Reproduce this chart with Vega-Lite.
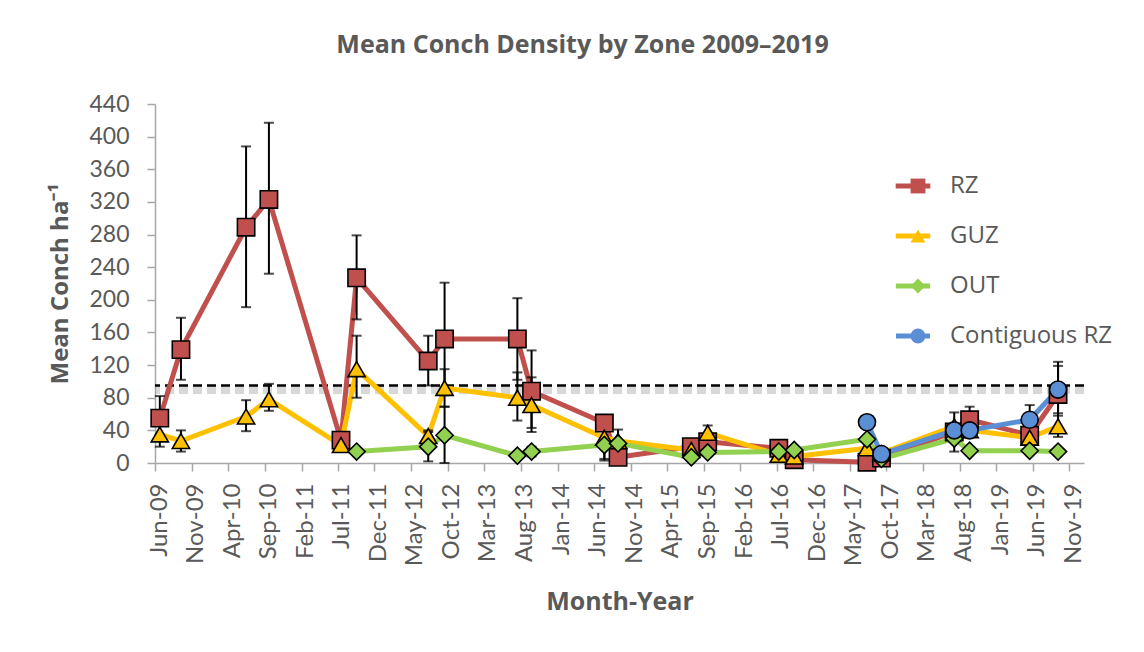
{
  "$schema": "https://vega.github.io/schema/vega-lite/v6.json",
  "width": 929,
  "height": 359,
  "autosize": {"type": "none"},
  "padding": {"left": 155, "top": 104, "right": 60, "bottom": 189},
  "background": "white",
  "title": {
    "text": "Mean Conch Density by Zone 2009–2019",
    "font": "Open Sans",
    "fontSize": 25,
    "fontWeight": "bold",
    "color": "#595959",
    "dx": -37,
    "offset": 35
  },
  "datasets": {
    "conch": [
      {"date": "2009/06/21", "zone": "RZ", "value": 55, "lo": 28, "hi": 82},
      {"date": "2009/09/17", "zone": "RZ", "value": 139, "lo": 102, "hi": 178},
      {"date": "2010/06/15", "zone": "RZ", "value": 289, "lo": 191, "hi": 388},
      {"date": "2010/09/18", "zone": "RZ", "value": 323, "lo": 232, "hi": 417},
      {"date": "2011/07/15", "zone": "RZ", "value": 28, "lo": 20, "hi": 36},
      {"date": "2011/09/18", "zone": "RZ", "value": 227, "lo": 176, "hi": 279},
      {"date": "2012/07/12", "zone": "RZ", "value": 125, "lo": 95, "hi": 156},
      {"date": "2012/09/18", "zone": "RZ", "value": 152, "lo": 83, "hi": 221},
      {"date": "2013/07/18", "zone": "RZ", "value": 152, "lo": 102, "hi": 202},
      {"date": "2013/09/15", "zone": "RZ", "value": 88, "lo": 38, "hi": 138},
      {"date": "2014/07/15", "zone": "RZ", "value": 49, "lo": null, "hi": null},
      {"date": "2014/09/10", "zone": "RZ", "value": 7, "lo": null, "hi": null},
      {"date": "2015/07/12", "zone": "RZ", "value": 20, "lo": null, "hi": null},
      {"date": "2015/09/18", "zone": "RZ", "value": 26, "lo": null, "hi": null},
      {"date": "2016/07/10", "zone": "RZ", "value": 18, "lo": null, "hi": null},
      {"date": "2016/09/12", "zone": "RZ", "value": 4, "lo": null, "hi": null},
      {"date": "2017/07/12", "zone": "RZ", "value": 1, "lo": null, "hi": null},
      {"date": "2017/09/10", "zone": "RZ", "value": 6, "lo": null, "hi": null},
      {"date": "2018/07/10", "zone": "RZ", "value": 38, "lo": null, "hi": null},
      {"date": "2018/09/12", "zone": "RZ", "value": 53, "lo": 38, "hi": 69},
      {"date": "2019/05/20", "zone": "RZ", "value": 34, "lo": 24, "hi": 44},
      {"date": "2019/09/15", "zone": "RZ", "value": 84, "lo": 44, "hi": 124},

      {"date": "2009/06/21", "zone": "GUZ", "value": 35, "lo": 20, "hi": 50},
      {"date": "2009/09/17", "zone": "GUZ", "value": 27, "lo": 14, "hi": 40},
      {"date": "2010/06/15", "zone": "GUZ", "value": 57, "lo": 39, "hi": 77},
      {"date": "2010/09/18", "zone": "GUZ", "value": 78, "lo": 64, "hi": 97},
      {"date": "2011/07/15", "zone": "GUZ", "value": 22, "lo": 14, "hi": 30},
      {"date": "2011/09/18", "zone": "GUZ", "value": 115, "lo": 80, "hi": 156},
      {"date": "2012/07/12", "zone": "GUZ", "value": 33, "lo": 26, "hi": 40},
      {"date": "2012/09/18", "zone": "GUZ", "value": 92, "lo": 69, "hi": 115},
      {"date": "2013/07/18", "zone": "GUZ", "value": 80, "lo": 52, "hi": 111},
      {"date": "2013/09/15", "zone": "GUZ", "value": 71, "lo": 43, "hi": 105},
      {"date": "2014/07/15", "zone": "GUZ", "value": 31, "lo": 5, "hi": 57},
      {"date": "2014/09/10", "zone": "GUZ", "value": 27, "lo": null, "hi": null},
      {"date": "2015/07/12", "zone": "GUZ", "value": 16, "lo": null, "hi": null},
      {"date": "2015/09/18", "zone": "GUZ", "value": 37, "lo": 28, "hi": 46},
      {"date": "2016/07/10", "zone": "GUZ", "value": 10, "lo": null, "hi": null},
      {"date": "2016/09/12", "zone": "GUZ", "value": 8, "lo": null, "hi": null},
      {"date": "2017/07/12", "zone": "GUZ", "value": 18, "lo": null, "hi": null},
      {"date": "2017/09/10", "zone": "GUZ", "value": 12, "lo": null, "hi": null},
      {"date": "2018/07/10", "zone": "GUZ", "value": 45, "lo": null, "hi": null},
      {"date": "2018/09/12", "zone": "GUZ", "value": 40, "lo": null, "hi": null},
      {"date": "2019/05/20", "zone": "GUZ", "value": 31, "lo": null, "hi": null},
      {"date": "2019/09/15", "zone": "GUZ", "value": 45, "lo": 32, "hi": 58},

      {"date": "2011/09/18", "zone": "OUT", "value": 14, "lo": null, "hi": null},
      {"date": "2012/07/12", "zone": "OUT", "value": 20, "lo": 2, "hi": 38},
      {"date": "2012/09/18", "zone": "OUT", "value": 34, "lo": 0, "hi": 69},
      {"date": "2013/07/18", "zone": "OUT", "value": 9, "lo": null, "hi": null},
      {"date": "2013/09/15", "zone": "OUT", "value": 14, "lo": 8, "hi": 20},
      {"date": "2014/07/15", "zone": "OUT", "value": 22, "lo": 3, "hi": 41},
      {"date": "2014/09/10", "zone": "OUT", "value": 24, "lo": 7, "hi": 41},
      {"date": "2015/07/12", "zone": "OUT", "value": 7, "lo": null, "hi": null},
      {"date": "2015/09/18", "zone": "OUT", "value": 13, "lo": null, "hi": null},
      {"date": "2016/07/10", "zone": "OUT", "value": 14, "lo": null, "hi": null},
      {"date": "2016/09/12", "zone": "OUT", "value": 16, "lo": null, "hi": null},
      {"date": "2017/07/12", "zone": "OUT", "value": 29, "lo": null, "hi": null},
      {"date": "2017/09/10", "zone": "OUT", "value": 5, "lo": null, "hi": null},
      {"date": "2018/07/10", "zone": "OUT", "value": 30, "lo": null, "hi": null},
      {"date": "2018/09/12", "zone": "OUT", "value": 15, "lo": null, "hi": null},
      {"date": "2019/05/20", "zone": "OUT", "value": 15, "lo": null, "hi": null},
      {"date": "2019/09/15", "zone": "OUT", "value": 14, "lo": null, "hi": null},

      {"date": "2017/07/12", "zone": "Contiguous RZ", "value": 50, "lo": null, "hi": null},
      {"date": "2017/09/10", "zone": "Contiguous RZ", "value": 11, "lo": null, "hi": null},
      {"date": "2018/07/10", "zone": "Contiguous RZ", "value": 40, "lo": 14, "hi": 62},
      {"date": "2018/09/12", "zone": "Contiguous RZ", "value": 40, "lo": null, "hi": null},
      {"date": "2019/05/20", "zone": "Contiguous RZ", "value": 53, "lo": 35, "hi": 71},
      {"date": "2019/09/15", "zone": "Contiguous RZ", "value": 90, "lo": 61, "hi": 119}
    ],
    "threshold": [{"level": 95}]
  },
  "layer": [
    {
      "data": {"name": "threshold"},
      "mark": {"type": "rule", "color": "#a8a8a8", "opacity": 0.45, "strokeWidth": 9, "strokeDash": [9, 5], "yOffset": 4},
      "encoding": {
        "y": {"field": "level", "type": "quantitative", "title": "Mean Conch ha⁻¹",
          "scale": {"domain": [0, 440], "nice": false},
          "axis": {"values": [0, 40, 80, 120, 160, 200, 240, 280, 320, 360, 400, 440]}}
      }
    },
    {
      "data": {"name": "threshold"},
      "mark": {"type": "rule", "color": "black", "strokeWidth": 2.5, "strokeDash": [9, 5]},
      "encoding": {
        "y": {"field": "level", "type": "quantitative", "title": "Mean Conch ha⁻¹",
          "scale": {"domain": [0, 440], "nice": false},
          "axis": {"values": [0, 40, 80, 120, 160, 200, 240, 280, 320, 360, 400, 440]}}
      }
    },
    {
      "data": {"name": "conch"},
      "encoding": {
        "x": {
          "field": "date",
          "type": "temporal",
          "title": "Month-Year",
          "scale": {"domain": [{"year": 2009, "month": 6, "date": 1}, {"year": 2020, "month": 1, "date": 1}]},
          "axis": {
            "format": "%b-%y",
            "values": [
              {"year": 2009, "month": 6, "date": 1}, {"year": 2009, "month": 11, "date": 1},
              {"year": 2010, "month": 4, "date": 1}, {"year": 2010, "month": 9, "date": 1},
              {"year": 2011, "month": 2, "date": 1}, {"year": 2011, "month": 7, "date": 1},
              {"year": 2011, "month": 12, "date": 1}, {"year": 2012, "month": 5, "date": 1},
              {"year": 2012, "month": 10, "date": 1}, {"year": 2013, "month": 3, "date": 1},
              {"year": 2013, "month": 8, "date": 1}, {"year": 2014, "month": 1, "date": 1},
              {"year": 2014, "month": 6, "date": 1}, {"year": 2014, "month": 11, "date": 1},
              {"year": 2015, "month": 4, "date": 1}, {"year": 2015, "month": 9, "date": 1},
              {"year": 2016, "month": 2, "date": 1}, {"year": 2016, "month": 7, "date": 1},
              {"year": 2016, "month": 12, "date": 1}, {"year": 2017, "month": 5, "date": 1},
              {"year": 2017, "month": 10, "date": 1}, {"year": 2018, "month": 3, "date": 1},
              {"year": 2018, "month": 8, "date": 1}, {"year": 2019, "month": 1, "date": 1},
              {"year": 2019, "month": 6, "date": 1}, {"year": 2019, "month": 11, "date": 1}
            ]
          }
        }
      },
      "layer": [
        {
          "mark": {"type": "line", "strokeWidth": 5, "strokeJoin": "round"},
          "encoding": {
            "y": {
              "field": "value",
              "type": "quantitative",
              "title": "Mean Conch ha⁻¹",
              "scale": {"domain": [0, 440], "nice": false},
              "axis": {"values": [0, 40, 80, 120, 160, 200, 240, 280, 320, 360, 400, 440]}
            },
            "stroke": {
              "field": "zone",
              "type": "nominal",
              "scale": {"domain": ["RZ", "GUZ", "OUT", "Contiguous RZ"], "range": ["#C0504D", "#FFC000", "#92D050", "#5B8FD5"]},
              "legend": {
                "orient": "none", "legendX": 734, "legendY": 70, "title": null, "padding": 0,
                "symbolType": "M-2,0L2,0", "symbolSize": 784, "symbolStrokeWidth": 5,
                "symbolOffset": 12, "labelOffset": 25, "labelFont": "Open Sans", "labelFontSize": 24,
                "labelColor": "#595959", "labelLimit": 400, "rowPadding": 26
              }
            }
          }
        },
        {
          "transform": [{"filter": "isValid(datum.lo)"}],
          "mark": {"type": "errorbar", "color": "black", "ticks": {"size": 10, "thickness": 2, "color": "black"}, "rule": {"strokeWidth": 2, "color": "black"}},
          "encoding": {
            "y": {"field": "lo", "type": "quantitative", "title": "Mean Conch ha⁻¹",
              "scale": {"domain": [0, 440], "nice": false},
              "axis": {"values": [0, 40, 80, 120, 160, 200, 240, 280, 320, 360, 400, 440]}},
            "y2": {"field": "hi"}
          }
        },
        {
          "mark": {"type": "point", "filled": true, "opacity": 1, "stroke": "black", "strokeWidth": 1.6},
          "encoding": {
            "y": {"field": "value", "type": "quantitative", "title": "Mean Conch ha⁻¹",
              "scale": {"domain": [0, 440], "nice": false},
              "axis": {"values": [0, 40, 80, 120, 160, 200, 240, 280, 320, 360, 400, 440]}},
            "fill": {
              "field": "zone",
              "type": "nominal",
              "scale": {"domain": ["RZ", "GUZ", "OUT", "Contiguous RZ"], "range": ["#C0504D", "#FFC000", "#92D050", "#5B8FD5"]},
              "legend": null
            },
            "shape": {
              "field": "zone",
              "type": "nominal",
              "scale": {"domain": ["RZ", "GUZ", "OUT", "Contiguous RZ"], "range": ["square", "triangle-up", "diamond", "circle"]},
              "legend": {
                "orient": "right", "offset": -265, "title": null, "padding": 70,
                "symbolSize": 220, "symbolStrokeWidth": 2, "symbolStrokeColor": "black",
                "symbolOffset": 17, "labelOpacity": 0, "labelFont": "Open Sans", "labelFontSize": 24,
                "rowPadding": 26,
                "encode": {
                  "symbols": {
                    "fill": {"value": {"expr": "scale('fill', datum.value)"}},
                    "stroke": {"value": "black"},
                    "strokeWidth": {"value": 2},
                    "opacity": {"value": 1}
                  }
                }
              }
            },
            "size": {
              "field": "zone",
              "type": "nominal",
              "scale": {"domain": ["RZ", "GUZ", "OUT", "Contiguous RZ"], "range": [300, 290, 210, 270]},
              "legend": null
            }
          }
        }
      ]
    }
  ],
  "config": {
    "view": {"stroke": null},
    "axis": {
      "grid": false,
      "domainColor": "#a6a6a6",
      "domainWidth": 1.5,
      "tickColor": "#a6a6a6",
      "tickWidth": 1.5,
      "tickSize": 8,
      "labelColor": "#595959",
      "labelFont": "Lato",
      "titleColor": "#595959",
      "titleFont": "Open Sans",
      "titleFontWeight": "bold"
    },
    "axisX": {
      "labelAngle": -90,
      "labelFontSize": 24,
      "labelPadding": 12,
      "labelOffset": 4,
      "titleFontSize": 25,
      "titlePadding": 24,
      "labelFlush": false,
      "labelOverlap": false
    },
    "axisY": {
      "labelFontSize": 23,
      "labelPadding": 18,
      "titleFontSize": 24,
      "titlePadding": 16,
      "labelOverlap": false
    }
  }
}
